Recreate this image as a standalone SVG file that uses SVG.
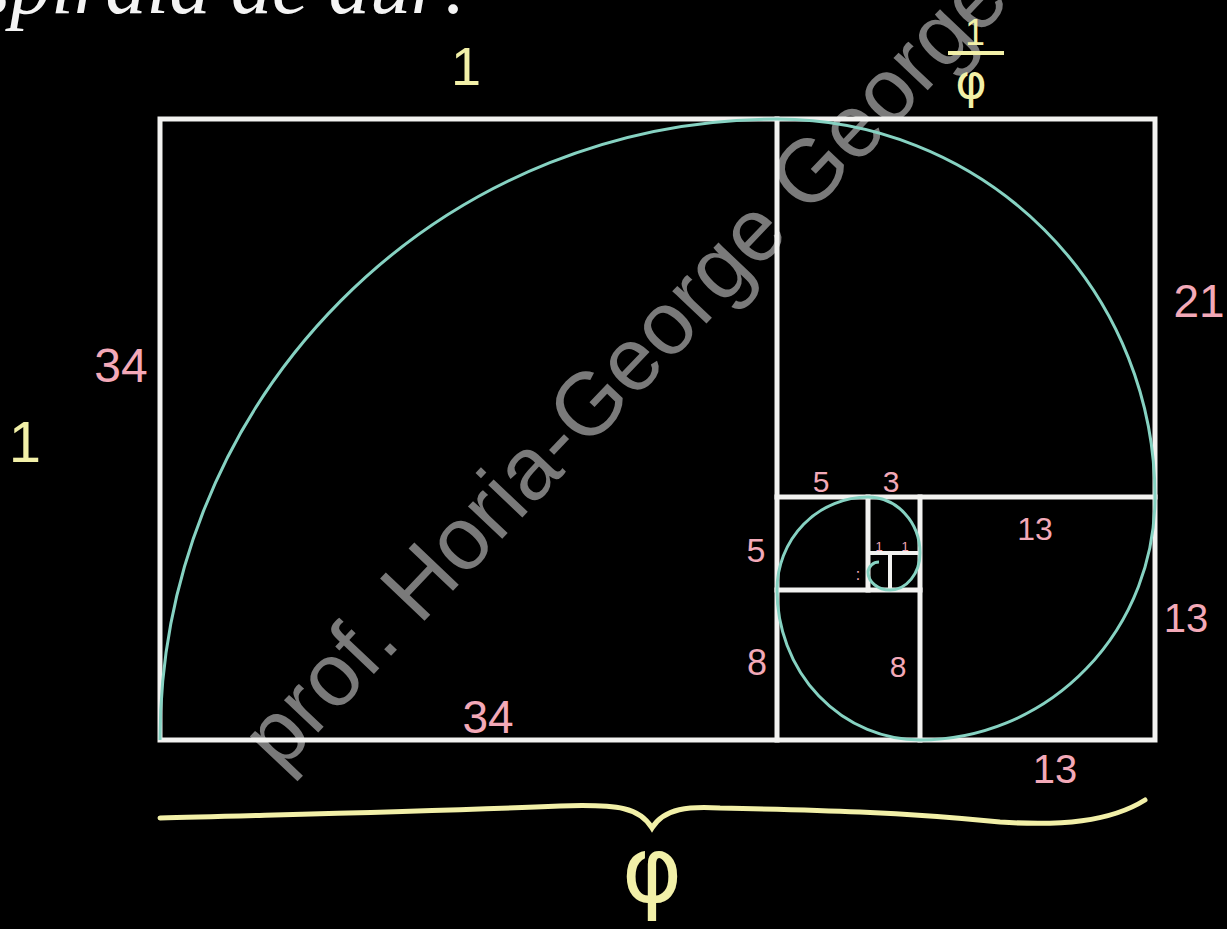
<svg xmlns="http://www.w3.org/2000/svg" width="1227" height="929" viewBox="0 0 1227 929">
<style>
.sq{fill:none;stroke:#f2f2f0;stroke-width:5;stroke-linecap:square}
.sp{fill:none;stroke:#86d2c2;stroke-width:3}
.pk{fill:#f3a9b8;font-family:"Liberation Sans",sans-serif;text-anchor:middle}
.yl{fill:#f2f0a8;font-family:"Liberation Sans",sans-serif;text-anchor:middle}
.gr{fill:#f2f0a8;font-family:"DejaVu Sans",sans-serif;text-anchor:middle}
</style>
<rect width="1227" height="929" fill="#000"/>
<text x="-22" y="13" font-family="Liberation Serif,serif" font-style="italic" font-size="82" fill="#f4f4f4">spirală de aur:</text>
<text transform="translate(280,773) rotate(-46.5)" font-family="Liberation Sans,sans-serif" font-size="89" fill="#7a7a7a">prof. Horia-George Georgescu</text>
<g id="squares">
<rect id="sq55" class="sq" x="160" y="119" width="995" height="621"/>
<line class="sq" x1="777" y1="119" x2="777" y2="740"/>
<line class="sq" x1="777" y1="497" x2="1155" y2="497"/>
<line class="sq" x1="920" y1="497" x2="920" y2="740"/>
<line class="sq" x1="777" y1="590" x2="920" y2="590"/>
<line class="sq" x1="868" y1="497" x2="868" y2="590"/>
<line class="sq" x1="868" y1="553" x2="920" y2="553" style="stroke-width:4"/>
<line class="sq" x1="890" y1="553" x2="890" y2="590" style="stroke-width:4"/>
</g>
<g id="spiral">
<path class="sp" d="M160,740 A617,621 0 0 1 777,119 A378,378 0 0 1 1155,497 A235,243 0 0 1 920,740 A143,150 0 0 1 777,590 A91,93 0 0 1 868,497 A52,56 0 0 1 920,553 A30,37 0 0 1 890,590 A22,18 0 0 1 868,572 A11,11 0 0 1 879,562"/>
</g>
<g id="labels">
<text class="yl" x="466" y="85" font-size="54">1</text>
<text class="yl" x="25" y="462" font-size="58">1</text>
<text class="yl" x="975" y="45" font-size="36">1</text>
<line x1="948" y1="53" x2="1004" y2="53" stroke="#f2f0a8" stroke-width="4"/>
<text class="gr" x="971" y="98" font-size="48">φ</text>
<text class="pk" x="121" y="382" font-size="48">34</text>
<text class="pk" x="1199" y="317" font-size="46">21</text>
<text class="pk" x="821" y="492" font-size="30">5</text>
<text class="pk" x="891" y="492" font-size="30">3</text>
<text class="pk" x="1035" y="540" font-size="32">13</text>
<text class="pk" x="756" y="562" font-size="34">5</text>
<text class="pk" x="1186" y="632" font-size="40">13</text>
<text class="pk" x="757" y="675" font-size="36">8</text>
<text class="pk" x="898" y="677" font-size="30">8</text>
<text class="pk" x="488" y="733" font-size="46">34</text>
<text class="pk" x="1055" y="783" font-size="40">13</text>
<text class="pk" x="879" y="551" font-size="13">1</text>
<text class="pk" x="905" y="551" font-size="13">1</text>
<text class="pk" x="858" y="580" font-size="16">:</text>
</g>
<g id="brace">
<path d="M160,818 C260,815 420,812 560,806 C620,804 640,808 652,828 C664,808 690,806 720,808 C820,810 900,812 1000,822 C1060,826 1110,822 1145,800" fill="none" stroke="#f2f0a8" stroke-width="5" stroke-linecap="round"/>
<text class="gr" x="652" y="902" font-size="92">φ</text>
</g>
</svg>
